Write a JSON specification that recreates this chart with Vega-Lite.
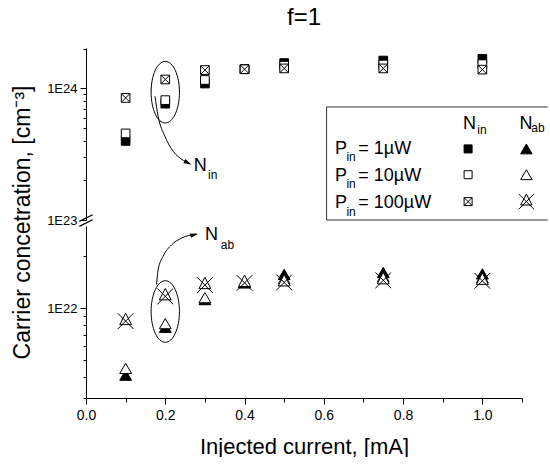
{
  "$schema": "https://vega.github.io/schema/vega-lite/v6.json",
  "background": "white",
  "padding": {"left": 11, "top": 5, "right": 0, "bottom": 0},
  "config": {
    "font": "Liberation Sans",
    "view": {"stroke": null},
    "axis": {"grid": false, "domainColor": "black", "tickColor": "black", "labelColor": "black", "titleColor": "black", "labelFlush": false, "labelOverlap": false, "titleFontWeight": "normal", "domainWidth": 1, "tickWidth": 1},
    "title": {"fontWeight": "normal", "color": "black", "fontSize": 24},
    "text": {"color": "black"}
  },
  "datasets": {
    "nin": [
      {"S": "in1", "I": 0.1, "N": 3.99e23}, {"S": "in1", "I": 0.2, "N": 7.66e23}, {"S": "in1", "I": 0.3, "N": 1.09e24}, {"S": "in1", "I": 0.4, "N": 1.40e24}, {"S": "in1", "I": 0.5, "N": 1.56e24}, {"S": "in1", "I": 0.75, "N": 1.63e24}, {"S": "in1", "I": 1.0, "N": 1.68e24},
      {"S": "in10", "I": 0.1, "N": 4.55e23}, {"S": "in10", "I": 0.2, "N": 8.15e23}, {"S": "in10", "I": 0.3, "N": 1.16e24}, {"S": "in10", "I": 0.4, "N": 1.40e24}, {"S": "in10", "I": 0.5, "N": 1.49e24}, {"S": "in10", "I": 0.75, "N": 1.52e24}, {"S": "in10", "I": 1.0, "N": 1.53e24},
      {"S": "in100", "I": 0.1, "N": 8.47e23}, {"S": "in100", "I": 0.2, "N": 1.17e24}, {"S": "in100", "I": 0.3, "N": 1.38e24}, {"S": "in100", "I": 0.4, "N": 1.40e24}, {"S": "in100", "I": 0.5, "N": 1.42e24}, {"S": "in100", "I": 0.75, "N": 1.42e24}, {"S": "in100", "I": 1.0, "N": 1.39e24}
    ],
    "nab": [
      {"S": "ab1", "I": 0.1, "N": 4.07e21}, {"S": "ab1", "I": 0.2, "N": 7.73e21}, {"S": "ab1", "I": 0.3, "N": 1.12e22}, {"S": "ab1", "I": 0.4, "N": 1.40e22}, {"S": "ab1", "I": 0.5, "N": 1.57e22}, {"S": "ab1", "I": 0.75, "N": 1.61e22}, {"S": "ab1", "I": 1.0, "N": 1.58e22},
      {"S": "ab10", "I": 0.1, "N": 4.46e21}, {"S": "ab10", "I": 0.2, "N": 8.12e21}, {"S": "ab10", "I": 0.3, "N": 1.15e22}, {"S": "ab10", "I": 0.4, "N": 1.41e22}, {"S": "ab10", "I": 0.5, "N": 1.48e22}, {"S": "ab10", "I": 0.75, "N": 1.52e22}, {"S": "ab10", "I": 1.0, "N": 1.50e22},
      {"S": "ab100", "I": 0.1, "N": 8.4e21}, {"S": "ab100", "I": 0.2, "N": 1.17e22}, {"S": "ab100", "I": 0.3, "N": 1.36e22}, {"S": "ab100", "I": 0.4, "N": 1.40e22}, {"S": "ab100", "I": 0.5, "N": 1.41e22}, {"S": "ab100", "I": 0.75, "N": 1.45e22}, {"S": "ab100", "I": 1.0, "N": 1.44e22}
    ]
  },
  "spacing": 6,
  "bounds": "flush",
  "vconcat": [
    {
      "width": 436,
      "height": 172,
      "title": {"text": "f=1", "anchor": "middle", "frame": "group", "baseline": "alphabetic", "offset": -6},
      "encoding": {
        "x": {"field": "I", "type": "quantitative", "scale": {"domain": [0, 1.1], "nice": false, "zero": false}, "axis": null},
        "y": {
          "field": "N", "type": "quantitative",
          "scale": {"type": "log", "domain": [1e23, 2.03e24], "nice": false},
          "axis": {
            "values": [1e23, 2e23, 3e23, 4e23, 5e23, 6e23, 7e23, 8e23, 9e23, 1e24, 2e24],
            "labelExpr": "datum.value == 1e24 ? '1E24' : (datum.value == 1e23 ? '1E23' : '')",
            "tickSize": {"condition": {"test": "datum.value == 1e24 || datum.value == 1e23", "value": 6}, "value": 3},
            "labelFontSize": 13,
            "labelPadding": 3,
            "title": "Carrier concetration, [cm⁻³]",
            "titleFontSize": 23,
            "titleAngle": 270,
            "titleX": -64,
            "titleY": 174,
            "titleAlign": "center",
            "titleBaseline": "middle"
          }
        }
      },
      "layer": [
        {
          "data": {"values": [{"I": 0.2, "N": 9.37e23}]},
          "mark": {"type": "point", "shape": "M0,-1C0.254,-1 0.46,-0.552 0.46,0C0.46,0.552 0.254,1 0,1C-0.254,1 -0.46,0.552 -0.46,0C-0.46,-0.552 -0.254,-1 0,-1Z", "size": 3795, "filled": false, "stroke": "black", "strokeWidth": 1, "opacity": 1}
        },
        {
          "data": {"values": [{"I": 0.174, "N": 8.71e23}, {"I": 0.182, "N": 6.14e23}, {"I": 0.199, "N": 4.33e23}, {"I": 0.22, "N": 3.33e23}, {"I": 0.2456, "N": 2.84e23}, {"I": 0.262, "N": 2.68e23}]},
          "mark": {"type": "line", "color": "black", "strokeWidth": 1, "interpolate": "monotone"}
        },
        {
          "data": {"values": [{"I": 0.2572, "N": 2.72e23}]},
          "mark": {"type": "point", "shape": "M1,0L-1,-0.55L-1,0.55Z", "size": 64, "angle": 27, "filled": true, "color": "black", "opacity": 1}
        },
        {
          "data": {"values": [{"I": 0.607, "I2": 1.165, "N": 7.23e23, "N2": 7.23e23}, {"I": 0.607, "I2": 1.165, "N": 1e23, "N2": 1e23}, {"I": 0.607, "I2": 0.607, "N": 1e23, "N2": 7.23e23}]},
          "mark": {"type": "rule", "color": "#333333", "strokeWidth": 1},
          "encoding": {"x2": {"field": "I2"}, "y2": {"field": "N2"}}
        },
        {
          "data": {"values": [
            {"I": 0.272, "N": 2.34e23, "t": "N"},
            {"I": 0.951, "N": 4.92e23, "t": "N"},
            {"I": 1.094, "N": 4.92e23, "t": "N"},
            {"I": 0.628, "N": 3.18e23, "t": "P"}, {"I": 0.687, "N": 3.18e23, "t": "= 1µW"},
            {"I": 0.628, "N": 1.99e23, "t": "P"}, {"I": 0.687, "N": 1.99e23, "t": "= 10µW"},
            {"I": 0.628, "N": 1.224e23, "t": "P"}, {"I": 0.687, "N": 1.224e23, "t": "= 100µW"}
          ]},
          "mark": {"type": "text", "align": "left", "baseline": "alphabetic", "fontSize": 18},
          "encoding": {"text": {"field": "t"}}
        },
        {
          "data": {"values": [
            {"I": 0.308, "N": 2.05e23, "t": "in"},
            {"I": 0.987, "N": 4.5e23, "t": "in"},
            {"I": 1.1236, "N": 4.64e23, "t": "ab"},
            {"I": 0.657, "N": 2.79e23, "t": "in"},
            {"I": 0.657, "N": 1.75e23, "t": "in"},
            {"I": 0.657, "N": 1.08e23, "t": "in"}
          ]},
          "mark": {"type": "text", "align": "left", "baseline": "alphabetic", "fontSize": 12},
          "encoding": {"text": {"field": "t"}}
        },
        {
          "data": {"values": [{"S": "in1", "I": 0.964, "N": 3.47e23}, {"S": "in10", "I": 0.964, "N": 2.21e23}, {"S": "in100", "I": 0.964, "N": 1.38e23}]},
          "mark": {"type": "point", "filled": true, "stroke": "black", "strokeWidth": 1, "opacity": 1, "size": 64},
          "encoding": {
            "shape": {"field": "S", "type": "nominal", "scale": {"domain": ["in1", "in10", "in100", "ab1", "ab10", "ab100"], "range": ["square", "square", "M-1,-1L1,-1L1,1L-1,1Z M-1,-1L1,1 M1,-1L-1,1", "triangle-up", "triangle-up", "M0,-1.33L1,0.6L-1,0.6Z M-1.33,-1.33L1.33,1.33 M1.33,-1.33L-1.33,1.33"]}, "legend": null},
            "fill": {"field": "S", "type": "nominal", "scale": {"domain": ["in1", "in10", "in100", "ab1", "ab10", "ab100"], "range": ["black", "white", "white", "black", "white", "white"]}, "legend": null}
          }
        },
        {
          "data": {"values": [{"S": "ab1", "I": 1.111, "N": 3.47e23}, {"S": "ab10", "I": 1.111, "N": 2.21e23}, {"S": "ab100", "I": 1.111, "N": 1.38e23}]},
          "mark": {"type": "point", "filled": true, "stroke": "black", "strokeWidth": 1, "opacity": 1, "size": 130},
          "encoding": {
            "shape": {"field": "S", "type": "nominal", "scale": {"domain": ["in1", "in10", "in100", "ab1", "ab10", "ab100"], "range": ["square", "square", "M-1,-1L1,-1L1,1L-1,1Z M-1,-1L1,1 M1,-1L-1,1", "triangle-up", "triangle-up", "M0,-1.33L1,0.6L-1,0.6Z M-1.33,-1.33L1.33,1.33 M1.33,-1.33L-1.33,1.33"]}, "legend": null},
            "fill": {"field": "S", "type": "nominal", "scale": {"domain": ["in1", "in10", "in100", "ab1", "ab10", "ab100"], "range": ["black", "white", "white", "black", "white", "white"]}, "legend": null}
          }
        },
        {
          "data": {"name": "nin"},
          "mark": {"type": "point", "filled": true, "stroke": "black", "strokeWidth": 1, "opacity": 1, "size": 75},
          "encoding": {
            "shape": {"field": "S", "type": "nominal", "scale": {"domain": ["in1", "in10", "in100", "ab1", "ab10", "ab100"], "range": ["square", "square", "M-1,-1L1,-1L1,1L-1,1Z M-1,-1L1,1 M1,-1L-1,1", "triangle-up", "triangle-up", "M0,-1.33L1,0.6L-1,0.6Z M-1.33,-1.33L1.33,1.33 M1.33,-1.33L-1.33,1.33"]}, "legend": null},
            "fill": {"field": "S", "type": "nominal", "scale": {"domain": ["in1", "in10", "in100", "ab1", "ab10", "ab100"], "range": ["black", "white", "white", "black", "white", "white"]}, "legend": null}
          }
        },
        {
          "data": {"values": [{"I": 0, "N": 1.035e23}]},
          "mark": {"type": "point", "shape": "M-1,0.5L1,-0.5", "size": 177, "filled": false, "stroke": "black", "strokeWidth": 1.2, "opacity": 1}
        }
      ]
    },
    {
      "width": 436,
      "height": 172,
      "encoding": {
        "x": {
          "field": "I", "type": "quantitative",
          "scale": {"domain": [0, 1.1], "nice": false, "zero": false},
          "axis": {
            "values": [0, 0.1, 0.2, 0.3, 0.4, 0.5, 0.6, 0.7, 0.8, 0.9, 1.0, 1.1],
            "labelExpr": "(round(datum.value * 10) % 2 == 0 && datum.value < 1.05) ? format(datum.value, '.1f') : ''",
            "tickSize": {"condition": {"test": "round(datum.value * 10) % 2 == 0 && datum.value < 1.05", "value": 6}, "value": 4},
            "labelFontSize": 14,
            "labelPadding": 4,
            "title": "Injected current, [mA]",
            "titleFontSize": 22,
            "titlePadding": 14
          }
        },
        "y": {
          "field": "N", "type": "quantitative",
          "scale": {"type": "log", "domain": [3e21, 3e22], "nice": false},
          "axis": {
            "values": [3e21, 4e21, 5e21, 6e21, 7e21, 8e21, 9e21, 1e22, 2e22],
            "labelExpr": "datum.value == 1e22 ? '1E22' : ''",
            "tickSize": {"condition": {"test": "datum.value == 1e22", "value": 6}, "value": 3},
            "labelFontSize": 13,
            "labelPadding": 3,
            "title": null
          }
        }
      },
      "layer": [
        {
          "data": {"values": [{"I": 0.2, "N": 9.55e21}]},
          "mark": {"type": "point", "shape": "M0,-1C0.254,-1 0.46,-0.552 0.46,0C0.46,0.552 0.254,1 0,1C-0.254,1 -0.46,0.552 -0.46,0C-0.46,-0.552 -0.254,-1 0,-1Z", "size": 3795, "filled": false, "stroke": "black", "strokeWidth": 1, "opacity": 1}
        },
        {
          "data": {"values": [{"I": 0.178, "N": 1.37e22}, {"I": 0.182, "N": 1.67e22}, {"I": 0.1945, "N": 2.0e22}, {"I": 0.216, "N": 2.33e22}, {"I": 0.241, "N": 2.55e22}, {"I": 0.278, "N": 2.69e22}]},
          "mark": {"type": "line", "color": "black", "strokeWidth": 1, "interpolate": "monotone"}
        },
        {
          "data": {"values": [{"I": 0.2733, "N": 2.67e22}]},
          "mark": {"type": "point", "shape": "M1,0L-1,-0.55L-1,0.55Z", "size": 64, "angle": -14, "filled": true, "color": "black", "opacity": 1}
        },
        {
          "data": {"values": [{"I": 0.300, "N": 2.49e22, "t": "N"}]},
          "mark": {"type": "text", "align": "left", "baseline": "alphabetic", "fontSize": 18},
          "encoding": {"text": {"field": "t"}}
        },
        {
          "data": {"values": [{"I": 0.340, "N": 2.2e22, "t": "ab"}]},
          "mark": {"type": "text", "align": "left", "baseline": "alphabetic", "fontSize": 12},
          "encoding": {"text": {"field": "t"}}
        },
        {
          "data": {"name": "nab"},
          "mark": {"type": "point", "filled": true, "stroke": "black", "strokeWidth": 1, "opacity": 1, "size": 140},
          "encoding": {
            "shape": {"field": "S", "type": "nominal", "scale": {"domain": ["in1", "in10", "in100", "ab1", "ab10", "ab100"], "range": ["square", "square", "M-1,-1L1,-1L1,1L-1,1Z M-1,-1L1,1 M1,-1L-1,1", "triangle-up", "triangle-up", "M0,-1.33L1,0.6L-1,0.6Z M-1.33,-1.33L1.33,1.33 M1.33,-1.33L-1.33,1.33"]}, "legend": null},
            "fill": {"field": "S", "type": "nominal", "scale": {"domain": ["in1", "in10", "in100", "ab1", "ab10", "ab100"], "range": ["black", "white", "white", "black", "white", "white"]}, "legend": null}
          }
        },
        {
          "data": {"values": [{"I": 0, "N": 3.12e22}]},
          "mark": {"type": "point", "shape": "M-1,0.5L1,-0.5", "size": 177, "filled": false, "stroke": "black", "strokeWidth": 1.2, "opacity": 1}
        }
      ]
    }
  ]
}
